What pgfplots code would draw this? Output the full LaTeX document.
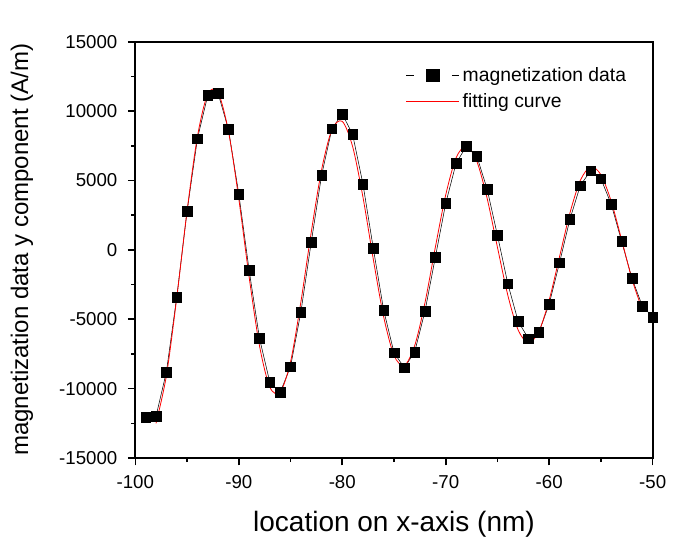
\documentclass[border=0pt]{standalone}
\usepackage{pgfplots}
\pgfplotsset{compat=1.18}
\usepackage{fontspec}
\setmainfont{Liberation Sans}
\pgfplotstableread{
x y
-99 -12067
-98 -11994
-97 -8802
-96 -3419
-95 2778
-94 8010
-93 11137
-92 11281
-91 8687
-90 4025
-89 -1474
-88 -6374
-87 -9544
-86 -10265
-85 -8420
-84 -4479
-83 544
-82 5372
-81 8730
-80 9789
-79 8327
-78 4745
-77 112
-76 -4334
-75 -7411
-74 -8492
-73 -7361
-72 -4406
-71 -515
-70 3354
-69 6237
-68 7483
-67 6763
-66 4385
-65 1048
-64 -2439
-63 -5149
-62 -6403
-61 -5941
-60 -3902
-59 -926
-58 2201
-57 4623
-56 5704
-55 5127
-54 3282
-53 616
-52 -2050
-51 -4046
-50 -4839
}\magdata
\pgfplotstableread{
x y
-98 -12500
-97 -9070
-96 -3480
-95 2806
-94 8157
-93 11232
-92 11334
-91 8540
-90 3673
-89 -1966
-88 -6911
-87 -9894
-86 -10253
-85 -8074
-84 -3757
-83 1264
-82 5760
-81 8664
-80 9260
-79 7450
-78 3800
-77 -681
-76 -4822
-75 -7603
-74 -8334
-73 -6904
-72 -3789
-71 203
-70 3964
-69 6631
-68 7484
-67 6396
-66 3717
-65 183
-64 -3267
-63 -5775
-62 -6697
-61 -5885
-60 -3611
-59 -495
-58 2643
-57 4992
-56 5985
-55 5413
-54 3482
-53 731
-52 -2109
-51 -4316
}\fitdata
\begin{document}
\begin{tikzpicture}
\useasboundingbox (-101.5pt,-64.5pt) rectangle (420.5pt,343.5pt);
\begin{axis}[
  at={(0pt,0pt)}, anchor=south west,
  scale only axis, width=388pt, height=312.2pt,
  xmin=-100, xmax=-50, ymin=-15000, ymax=15000,
  clip=false,
  xtick={-100,-90,-80,-70,-60,-50}, ytick={-15000,-10000,-5000,0,5000,10000,15000},
  minor xtick={-95,-85,-75,-65,-55}, minor ytick={-12500,-7500,-2500,2500,7500,12500},
  scaled y ticks=false, scaled x ticks=false,
  xtick align=outside, ytick align=outside, xtick pos=left, ytick pos=left,
  major tick length=5.5pt, minor tick length=3pt,
  every major tick/.append style={line width=1.2pt, black},
  every minor tick/.append style={line width=1.2pt, black},
  axis line style={line width=1.5pt},
  /pgf/number format/.cd, assume math mode=true, 1000 sep={},
  /pgfplots/.cd,
  tick label style={font=\fontsize{14}{16}\selectfont},
  xticklabel style={yshift=-4pt},
  yticklabel style={xshift=-4.5pt},
  xlabel={location on x-axis (nm)},
  ylabel={magnetization data y component (A/m)},
  xlabel style={font=\fontsize{21}{24}\selectfont,
    at={(axis description cs:0.5,-0.1586)}, anchor=center},
  ylabel style={font=\fontsize{18}{22}\selectfont,
    at={(axis description cs:-0.219,0.5)}, anchor=center},
  legend style={draw=none, fill=none, at={(0.962,0.952)}, anchor=north east,
    font=\fontsize{14.5}{16}\selectfont, row sep=3.5pt,
    every even column/.append style={column sep=4pt}},
  legend cell align=left,
]
\addplot[black, line width=0.4pt, mark=square*, mark size=3.6pt,
  mark options={solid, fill=black},
  legend image code/.code={
    \draw[black, line width=0.8pt] (0cm,0cm) -- (0.2cm,0cm);
    \draw[black, line width=0.8pt] (1.2cm,0cm) -- (1.4cm,0cm);
    \fill[black] (0.7cm,0cm) ++(-4.8pt,-4.8pt) rectangle ++(9.6pt,9.6pt);}]
  table[x=x, y=y] {\magdata};
\addlegendentry{magnetization data}
\addplot[red, line width=0.6pt, smooth, no marks,
  legend image code/.code={\draw[red, line width=1pt] (0cm,0cm) -- (1.4cm,0cm);}]
  table[x=x, y=y] {\fitdata};
\addlegendentry{fitting curve}
\end{axis}
\foreach \i in {0,...,5} {\draw[black, line width=1.2pt] (\i*77.6pt,0pt) -- ++(0pt,-5.5pt);}
\foreach \j in {0,...,6} {\draw[black, line width=1.2pt] (0pt,\j*52.0333pt) -- ++(-5.5pt,0pt);}
\end{tikzpicture}
\end{document}
